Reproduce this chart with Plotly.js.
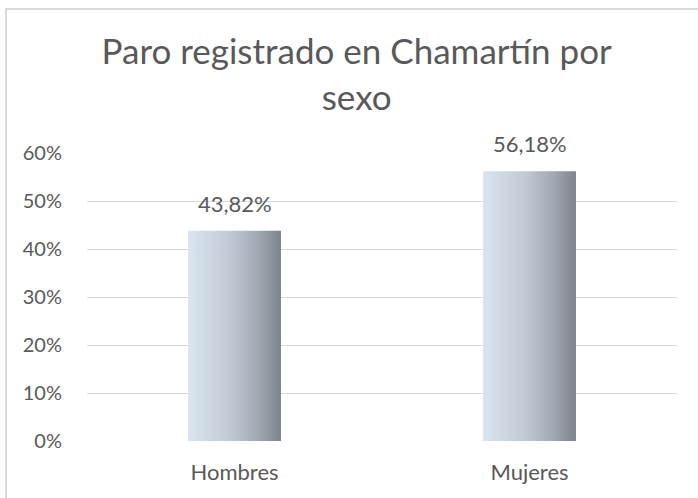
<!DOCTYPE html>
<html>
<head>
<meta charset="utf-8">
<script src="https://cdn.plot.ly/plotly-3.0.1.min.js"></script>
<style>
  html, body { margin: 0; padding: 0; background: #fff; }
  #wrap { position: relative; width: 698px; height: 498px; }
  #chart { width: 698px; height: 498px; }
  #frame { position: absolute; left: 5px; top: 8px; right: -4px; bottom: -4px;
           border-left: 2px solid #d9d9d9; border-top: 2px solid #d9d9d9; pointer-events: none; }
</style>
</head>
<body>
<div id="wrap">
  <div id="chart"></div>
  <div id="frame"></div>
</div>
<script>
const categories = ['Hombres', 'Mujeres'];
const values = [0.4382, 0.5618];
const tickVals = [0, 0.1, 0.2, 0.3, 0.4, 0.5, 0.6];
const tickText = ['0%', '10%', '20%', '30%', '40%', '50%', '60%'];
const titleText = 'Paro registrado en Chamartín por<br>sexo';

const fmt = v => (v * 100).toFixed(2).replace('.', ',') + '%';
const textColor = '#595959';
const fontFam = 'Lato, "Open Sans", sans-serif';

const trace = {
  type: 'bar',
  x: categories,
  y: values,
  marker: { color: '#b4bcc6', line: { width: 0 } },
  hoverinfo: 'none'
};

const annotations = categories.map((c, i) => ({
  x: c, y: values[i], xref: 'x', yref: 'y',
  text: fmt(values[i]), showarrow: false,
  yanchor: 'bottom', yshift: 12,
  font: { family: fontFam, size: 22, color: textColor }
}));

const layout = {
  width: 698, height: 498,
  margin: { l: 87, r: 21, t: 153, b: 57 },
  paper_bgcolor: '#ffffff', plot_bgcolor: '#ffffff',
  separators: ',.',
  title: {
    text: titleText,
    font: { family: fontFam, size: 35, color: textColor },
    xref: 'container', x: 0.511, xanchor: 'center',
    yref: 'container', y: 0.871, yanchor: 'top'
  },
  bargap: 0.685,
  showlegend: false,
  xaxis: {
    type: 'category',
    showgrid: false, zeroline: false, showline: false,
    ticks: 'outside', ticklen: 12, tickcolor: 'rgba(0,0,0,0)',
    tickfont: { family: fontFam, size: 22, color: textColor }
  },
  yaxis: {
    range: [0, 0.6],
    tickvals: tickVals, ticktext: tickText,
    showgrid: true, gridcolor: '#d9d9d9', gridwidth: 1,
    zeroline: false, showline: false,
    ticks: 'outside', ticklen: 20, tickcolor: 'rgba(0,0,0,0)',
    tickfont: { family: fontFam, size: 20, color: textColor }
  },
  annotations: annotations
};

Plotly.newPlot('chart', [trace], layout, { staticPlot: true }).then(gd => {
  const svg = gd.querySelector('svg.main-svg');
  const NS = 'http://www.w3.org/2000/svg';
  let defs = svg.querySelector('defs');
  if (!defs) { defs = document.createElementNS(NS, 'defs'); svg.insertBefore(defs, svg.firstChild); }
  const grad = document.createElementNS(NS, 'linearGradient');
  grad.setAttribute('id', 'barGrad');
  grad.setAttribute('x1', '0'); grad.setAttribute('y1', '0');
  grad.setAttribute('x2', '1'); grad.setAttribute('y2', '0');
  [['0', '#d8e4ef'], ['0.45', '#c0cad5'], ['0.75', '#a1a9b3'], ['1', '#7c838c']].forEach(([o, c]) => {
    const s = document.createElementNS(NS, 'stop');
    s.setAttribute('offset', o); s.setAttribute('stop-color', c);
    grad.appendChild(s);
  });
  defs.appendChild(grad);
  gd.querySelectorAll('.bars .point path').forEach(p => { p.style.fill = 'url(#barGrad)'; });
});
</script>
</body>
</html>
